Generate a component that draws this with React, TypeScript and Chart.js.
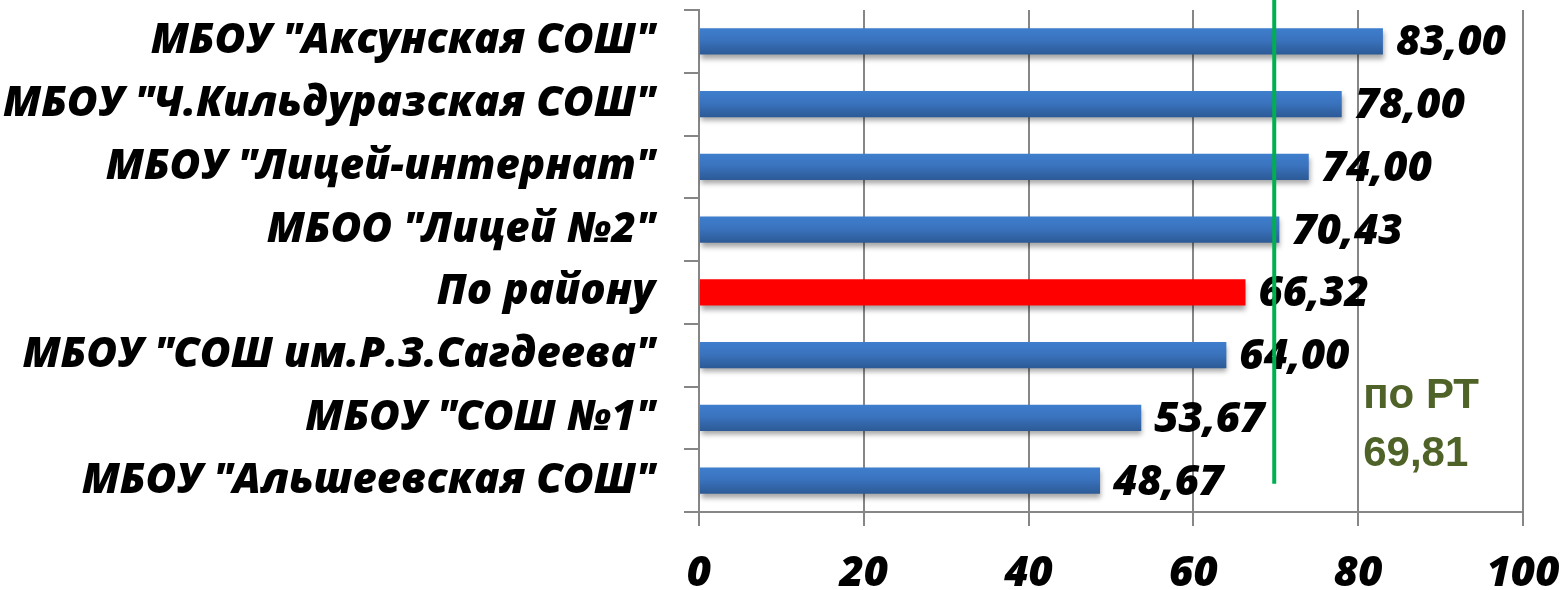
import React, { useEffect, useRef } from 'react';
import { Chart, registerables } from 'chart.js';

Chart.register(...registerables);

const categories = [
  'МБОУ "Аксунская СОШ"',
  'МБОУ "Ч.Кильдуразская СОШ"',
  'МБОУ "Лицей-интернат"',
  'МБОО "Лицей №2"',
  'По району',
  'МБОУ "СОШ им.Р.З.Сагдеева"',
  'МБОУ "СОШ №1"',
  'МБОУ "Альшеевская СОШ"',
];
const values = [83.0, 78.0, 74.0, 70.43, 66.32, 64.0, 53.67, 48.67];
const highlightCategory = 'По району';
const referenceValue = 69.81;
const referenceLabel = ['по РТ', '69,81'];
const xMin = 0;
const xMax = 100;
const xStep = 20;

const FONT = '"Open Sans"';
const FS = 42;
const FW = 800;
const fmt = (v: number) => v.toFixed(2).replace('.', ',');

const overlayPlugin = {
  id: 'overlay',
  beforeDatasetsDraw(chart: any) {
    const ctx = chart.ctx;
    ctx.save();
    ctx.shadowColor = 'rgba(0,0,0,0.35)';
    ctx.shadowBlur = 5;
    ctx.shadowOffsetX = 1;
    ctx.shadowOffsetY = 4;
  },
  afterDatasetsDraw(chart: any) {
    const ctx = chart.ctx;
    ctx.restore();
    const meta = chart.getDatasetMeta(0);
    ctx.save();
    ctx.font = `italic ${FW} ${FS}px ${FONT}`;
    ctx.fillStyle = '#000';
    ctx.textAlign = 'left';
    ctx.textBaseline = 'middle';
    meta.data.forEach((bar: any, i: number) => {
      ctx.fillText(fmt(values[i]), bar.x + 13, bar.y + 2);
    });
    const xs = chart.scales.x;
    const ys = chart.scales.y;
    const lx = xs.getPixelForValue(referenceValue);
    ctx.strokeStyle = '#00b050';
    ctx.lineWidth = 4;
    ctx.beginPath();
    ctx.moveTo(lx, 0);
    ctx.lineTo(lx, ys.getPixelForValue(categories.length - 1) + 3);
    ctx.stroke();
    ctx.font = `bold 42px "Liberation Sans"`;
    ctx.fillStyle = '#4f6228';
    ctx.textBaseline = 'alphabetic';
    const tx = xs.getPixelForValue(80) + 5;
    ctx.fillText(referenceLabel[0], tx, ys.getPixelForValue(categories.length - 2) - 10);
    ctx.fillText(referenceLabel[1], tx, ys.getPixelForValue(categories.length - 1) - 15);
    ctx.restore();
  },
};

export default function App() {
  const ref = useRef<HTMLCanvasElement>(null);
  useEffect(() => {
    if (!ref.current) return;
    const chart = new Chart(ref.current, {
      type: 'bar',
      data: {
        labels: categories,
        datasets: [
          {
            data: values,
            backgroundColor: (c: any) => {
              if (categories[c.dataIndex] === highlightCategory) return '#ff0000';
              const ch = c.chart;
              const ys = ch.scales && ch.scales.y;
              const center = ys ? ys.getPixelForValue(c.dataIndex) : NaN;
              if (!Number.isFinite(center)) return '#3a74c0';
              const g = ch.ctx.createLinearGradient(0, center - 13, 0, center + 13);
              g.addColorStop(0, '#3e7ecd');
              g.addColorStop(0.45, '#3a73be');
              g.addColorStop(1, '#2c5a96');
              return g;
            },
            borderWidth: 0,
            categoryPercentage: 0.42,
            barPercentage: 1,
          },
        ],
      },
      options: {
        indexAxis: 'y',
        animation: false,
        responsive: true,
        maintainAspectRatio: false,
        layout: { padding: { top: 10, right: 44, left: 0, bottom: 0 } },
        plugins: { legend: { display: false }, tooltip: { enabled: false } },
        scales: {
          x: {
            min: xMin,
            max: xMax,
            ticks: {
              stepSize: xStep,
              color: '#000',
              padding: 23,
              font: { family: FONT, size: FS, weight: FW, style: 'italic' },
            },
            grid: { color: '#868686', lineWidth: 2, tickLength: 14 },
            border: { color: '#868686', width: 2 },
            afterFit: (s: any) => {
              s.height = 78;
              s.paddingLeft = 0;
              s.paddingRight = 0;
            },
          },
          y: {
            ticks: {
              color: '#000',
              padding: 29,
              font: { family: FONT, size: FS, weight: FW, style: 'italic' },
            },
            grid: { drawOnChartArea: false, color: '#868686', lineWidth: 2, tickLength: 15, offset: true },
            border: { color: '#868686', width: 2 },
            afterFit: (s: any) => {
              s.width = 699;
              s.paddingTop = 0;
              s.paddingBottom = 0;
            },
          },
        },
      },
      plugins: [overlayPlugin],
    } as any);
    return () => chart.destroy();
  }, []);
  return (
    <div style={{ position: 'absolute', left: 0, top: 0, width: 1567, height: 590, background: '#fff' }}>
      <canvas ref={ref} />
    </div>
  );
}
